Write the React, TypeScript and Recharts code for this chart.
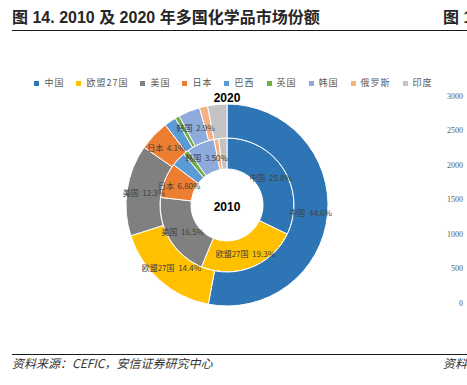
import { PieChart, Pie, Cell, Legend, LineChart, Line, XAxis, YAxis } from 'recharts'

const countries = ['中国', '欧盟27国', '美国', '日本', '巴西', '英国', '韩国', '俄罗斯', '印度']
const colors = ['#2E75B6', '#FFC000', '#808080', '#ED7D31', '#5B9BD5', '#70AD47', '#8FAADC', '#F4B183', '#C3C3C3']

// 2010 inner ring, 2020 outer ring (share of world market, %)
const share2010 = [25.8, 19.3, 16.5, 6.8, 2.8, 1.1, 5.4, 0.9, 1.6]
const share2020 = [44.6, 14.4, 12.3, 4.1, 1.6, 0.6, 2.9, 1.1, 2.6]
const label2010 = ['25.8%', '19.3%', '16.5%', '6.80%', '', '', '3.50%', '', '']
const label2020 = ['44.6%', '14.4%', '12.3%', '4.1%', '', '', '2.9%', '', '']

// cropped neighbour chart axis (its marks are outside the crop)
const rightTicks = [0, 500, 1000, 1500, 2000, 2500, 3000]
const rightData = [{ name: '', v: 0 }]

const inner = countries.map((name, i) => ({ name, value: share2010[i], label: label2010[i] }))
const outer = countries.map((name, i) => ({ name, value: share2020[i], label: label2020[i] }))

const RAD = Math.PI / 180
const cjk = '"Noto Sans CJK SC", sans-serif'

function sliceLabel(p: any) {
  const { cx, cy, midAngle, innerRadius, outerRadius, payload } = p
  const txt = payload?.label ?? p.label
  if (!txt) return null
  const r = (innerRadius + outerRadius) / 2
  const x = cx + r * Math.cos(-midAngle * RAD)
  const y = cy + r * Math.sin(-midAngle * RAD)
  return (
    <text x={x} y={y} textAnchor="middle" dominantBaseline="central" fontSize={8} fill="#404040" fontFamily={cjk}>
      {`${p.name ?? payload?.name}\u00a0\u00a0${txt}`}
    </text>
  )
}

function RightTick(p: any) {
  return (
    <text x={p.x} y={p.y} textAnchor="end" dominantBaseline="central" fontSize={8} fill="#595959" stroke="none" fontFamily='"Liberation Serif", serif'>
      {p.payload.value}
    </text>
  )
}

function LegendRow() {
  return (
    <div style={{ display: 'flex', justifyContent: 'center', alignItems: 'center', fontFamily: cjk, fontSize: 9, lineHeight: '10px', color: '#595959', letterSpacing: 1 }}>
      {countries.map((c, i) => (
        <div key={c} style={{ display: 'flex', alignItems: 'center', marginRight: i < countries.length - 1 ? 12 : 0 }}>
          <span style={{ width: 5, height: 5, background: colors[i], marginRight: 5, display: 'inline-block' }} />
          <span>{c}</span>
        </div>
      ))}
    </div>
  )
}

export default function App() {
  return (
    <div style={{ position: 'absolute', left: 0, top: 0, width: 467, height: 385, background: '#fff', overflow: 'hidden' }}>
      <div style={{ position: 'absolute', left: 12, top: 10, fontFamily: `"Liberation Sans", ${cjk}`, fontWeight: 700, fontSize: 16, lineHeight: '16px', color: '#262626', whiteSpace: 'nowrap' }}>
        图 14. 2010 及 2020 年多国化学品市场份额
      </div>
      <div style={{ position: 'absolute', left: 443, top: 10, fontFamily: `"Liberation Sans", ${cjk}`, fontWeight: 700, fontSize: 16, lineHeight: '16px', color: '#262626', whiteSpace: 'nowrap' }}>
        图 1
      </div>
      <div style={{ position: 'absolute', left: 12, top: 30, width: 455, borderTop: '1.5px solid #1a1a1a' }} />

      <div style={{ position: 'absolute', left: 0, top: 0 }}>
        <PieChart width={467} height={385} margin={{ top: 0, right: 0, bottom: 0, left: 0 }}>
          <Legend verticalAlign="middle" align="center" wrapperStyle={{ top: 78, left: 0, width: 467 }} content={() => <LegendRow />} />
          <Pie data={inner} dataKey="value" nameKey="name" cx={227} cy={205} innerRadius={36} outerRadius={67}
            startAngle={90} endAngle={-270} stroke="#fff" strokeWidth={1} label={sliceLabel} labelLine={false} isAnimationActive={false}>
            {inner.map((d, i) => <Cell key={d.name} fill={colors[i]} />)}
          </Pie>
          <Pie data={outer} dataKey="value" nameKey="name" cx={227} cy={205} innerRadius={67} outerRadius={101}
            startAngle={90} endAngle={-270} stroke="#fff" strokeWidth={1} label={sliceLabel} labelLine={false} isAnimationActive={false}>
            {outer.map((d, i) => <Cell key={d.name} fill={colors[i]} />)}
          </Pie>
        </PieChart>
      </div>

      <div style={{ position: 'absolute', left: 0, width: 454, top: 92, textAlign: 'center', fontFamily: '"Liberation Sans", sans-serif', fontWeight: 700, fontSize: 12, lineHeight: '12px', color: '#000' }}>2020</div>
      <div style={{ position: 'absolute', left: 0, width: 454, top: 201, textAlign: 'center', fontFamily: '"Liberation Sans", sans-serif', fontWeight: 700, fontSize: 12, lineHeight: '12px', color: '#000' }}>2010</div>

      <div style={{ position: 'absolute', left: 418, top: 90, width: 49, height: 220, overflow: 'hidden' }}>
        <LineChart width={120} height={220} data={rightData} margin={{ top: 6, right: 0, bottom: 7, left: 0 }} accessibilityLayer={false} style={{ outline: 'none' }}>
          <XAxis dataKey="name" hide />
          <YAxis width={45} domain={[0, 3000]} ticks={rightTicks} interval={0} axisLine={false} tickLine={false}
            tickSize={0} tickMargin={0} tick={<RightTick />} />
          <Line dataKey="v" stroke="none" dot={false} activeDot={false} isAnimationActive={false} />
        </LineChart>
      </div>

      <div style={{ position: 'absolute', left: 12, top: 354, width: 455, borderTop: '1.5px solid #1a1a1a' }} />
      <div style={{ position: 'absolute', left: 12, top: 357, fontFamily: cjk, fontStyle: 'italic', fontSize: 12, lineHeight: '12px', color: '#333', whiteSpace: 'nowrap' }}>
        资料来源：CEFIC，安信证券研究中心
      </div>
      <div style={{ position: 'absolute', left: 443, top: 357, fontFamily: cjk, fontStyle: 'italic', fontSize: 12, lineHeight: '12px', color: '#333', whiteSpace: 'nowrap' }}>
        资料
      </div>
    </div>
  )
}
